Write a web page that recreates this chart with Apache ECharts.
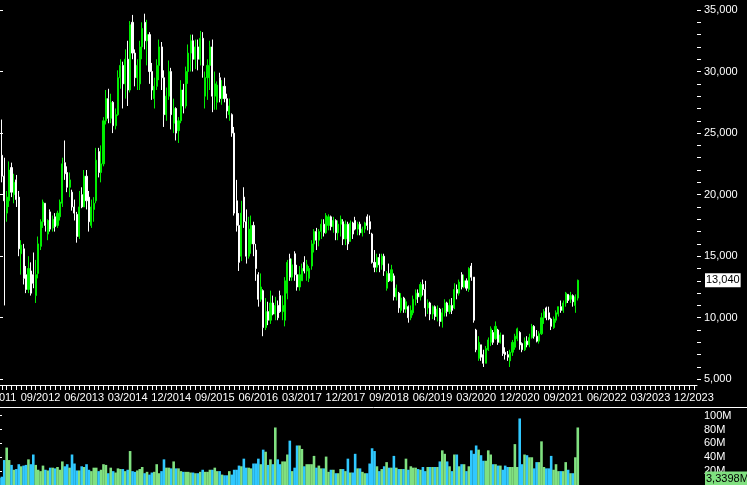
<!DOCTYPE html>
<html><head><meta charset="utf-8">
<script src="https://cdn.jsdelivr.net/npm/echarts@6/dist/echarts.min.js"></script>
<style>html,body{margin:0;padding:0;background:#000;}#c{width:747px;height:485px;}</style>
</head><body><div id="c"></div>
<script>
// ---- data: semi-monthly candles, first period mid-Dec 2011 (month index 0 = Dec 2011) ----
const periodStartMonth = 0.5;
const periodStepMonths = 0.5;

const opens = [
27900,23200,21500,18500,19500,22200,20000,21200,19800,15200,
15600,13500,12300,13800,13500,11800,13600,15800,17800,19300,
16800,18600,17300,18200,17500,18200,19300,22600,21800,20600,
20200,19000,18400,16600,20000,19000,21500,19800,17500,18800,
19500,23500,21800,22500,26000,27800,26200,27500,25600,26500,
29500,30500,29000,31000,28500,34000,31500,29500,29000,32000,
34000,32500,33000,30000,27800,28800,30500,32000,29500,26500,
28000,30000,25800,27000,25200,26000,28500,27200,30000,31500,
32500,31000,32000,31000,32700,28000,29500,30500,32000,28000,
27500,29500,27800,28800,27800,26500,26500,25000,19500,17500,
15000,19800,17800,15000,16000,17500,15500,13500,11500,12200,
9200,10500,9800,11200,10300,11000,11800,10500,9800,12000,
14800,13300,15200,13500,12500,13000,14500,13800,13200,14200,
16000,17000,16300,17000,17600,16900,17500,18200,17400,17900,
16900,17600,17800,16400,17600,16200,17700,17900,17200,17600,
16900,17200,18200,17800,16800,14500,14100,14900,14300,15000,
12400,13600,13000,13400,11700,12000,10600,11600,10700,10900,
10000,10400,11500,12000,11700,12700,12300,10800,11200,10300,
10900,10100,10700,9700,10400,11200,10500,11000,10800,12300,
12000,13500,12500,13000,12300,14200,13300,9000,6700,7800,
7000,6300,7400,8000,8800,8300,9000,8000,8600,7200,
7000,6500,7200,7600,8300,8800,7900,7400,8100,7800,
8400,9300,8500,8100,8700,10000,10800,10400,9900,9200,
9800,10300,10900,10600,11200,11900,11500,11800,11000,11600];

const closes = [
23200,21500,19500,19800,22000,20200,21000,19600,15600,15900,
13200,12300,14000,12000,12800,13500,16000,17800,19400,17500,
17900,17200,18000,17400,18500,19400,22500,21700,20600,21200,
19000,18500,16600,19000,19000,21500,19500,17800,19000,19300,
22800,21800,22500,26000,27800,26200,27500,25600,26500,29500,
30500,29000,31000,28500,33800,31500,29500,30500,32000,33500,
32500,33000,30000,28500,28800,30500,32000,29500,26500,28000,
30000,26500,27000,25000,26000,28500,27200,30000,31500,32500,
31000,32000,31000,32700,30500,29500,30500,32000,28000,29000,
28900,27800,28800,27800,26800,27200,25000,18500,17500,14500,
18500,17800,15000,17200,17500,16000,14000,11500,12500,9200,
10500,9800,11200,10300,11000,10000,10500,11000,13000,14500,
13300,14300,13500,12500,13500,14000,13800,14300,14000,16000,
17000,16300,17000,17600,16900,18300,18200,17400,17900,16900,
17600,18000,16400,17600,16000,17700,16800,17200,17600,16900,
17200,17700,17500,17200,14500,14100,14900,14300,15000,13800,
13600,13000,13900,11700,12400,10800,11600,10700,11300,10000,
10600,11500,12000,11700,12700,12300,10800,11200,10300,10900,
10100,10700,9700,10400,11200,10500,11000,10600,12300,12000,
12900,12500,13000,12400,14000,13300,9800,7400,8000,6800,
6300,7500,8200,9100,8000,9300,8000,8600,7100,7000,
6800,7200,8000,8500,9100,7800,7400,8100,7800,8400,
9300,8500,8100,8700,10000,10500,10000,9900,9300,9900,
10400,10900,10600,11200,12000,11400,11800,11300,11700,13040];

const highs = [
28300,26100,23000,20300,22700,22600,21700,21600,20300,16300,
16000,14200,15000,14500,15300,14700,16600,18000,19600,19300,
18000,18800,18300,18500,18700,19600,23000,24400,22300,21800,
20400,19600,18600,20300,20600,22000,22000,20300,19600,19800,
23800,23800,24000,26300,28500,28600,28200,27600,27000,30100,
31000,30800,31800,32500,34100,34600,31800,31000,32500,34000,
34700,34200,33200,30700,29500,31000,32600,32400,30100,28700,
30900,30300,27800,27100,26300,29300,29000,30400,32200,33000,
33000,32600,32600,33300,33200,30000,31000,32500,32600,30000,
29200,29900,29300,29500,28200,27800,26600,25500,21200,18500,
19500,20600,18800,18200,18300,17800,16000,13700,13600,12300,
11600,11300,12200,11800,11700,11400,12200,11800,13300,14700,
15200,14800,15400,14300,14200,14400,15000,14700,14200,16300,
17200,17300,17200,18000,18000,18500,18400,18300,18200,18000,
17900,18300,18000,17900,17800,17900,17800,18200,17800,17800,
17400,17800,18400,18300,16900,15500,15200,15200,15200,15200,
13800,14400,14300,13600,12700,12100,12000,11700,11500,11000,
11000,11800,12300,12300,12900,13100,13000,11500,11300,11000,
11000,11000,10800,10800,11500,11300,11500,11600,12800,12700,
13100,13700,13500,13200,14100,14450,13300,9100,8500,7800,
7400,7700,8400,9300,9000,9700,9100,8800,8600,7600,
7300,7400,8200,8700,9200,8900,8000,8400,8500,8700,
9500,9400,9000,8900,10400,10700,10900,10900,10000,10100,
10600,10900,11400,11400,12100,11900,12100,11900,11900,13100];

const lows = [
22600,21000,11000,17800,19000,19800,19300,19000,15000,13500,
12700,12000,12000,11800,12400,11200,13200,15500,17300,17000,
16300,17000,17000,17000,17300,17900,19000,21200,20200,19800,
18700,17900,16100,16400,18900,19000,18800,17000,17300,17800,
19300,21400,21000,22300,25700,25800,25800,25000,25300,26400,
28600,27000,27800,27200,28300,31000,28800,28500,28500,31000,
31800,30500,29000,27700,27000,28500,29300,28500,25500,26000,
27700,25300,25000,24400,24200,25800,26600,27000,29000,30000,
30000,30200,30100,30500,29500,27000,27700,28500,26700,26900,
26900,27500,27300,27500,26200,26000,24700,18300,17000,13800,
14600,17300,14400,14800,15200,15000,13000,10900,11300,8500,
9000,9400,9500,10200,9800,9800,10400,9800,9300,11500,
13000,13000,13000,12200,12200,13000,13600,13000,12900,13900,
15300,15500,15800,16400,16600,16800,17100,17100,16900,16300,
16300,16600,15900,15900,15500,16200,16400,17100,16700,16700,
16600,16900,17100,16800,14400,13700,13700,13700,13900,13400,
12200,12900,12900,11400,11400,10400,10400,10400,10400,9600,
9800,10200,11000,11200,11400,11800,10100,10300,9800,9900,
9800,9700,9300,9200,10100,10100,10300,10300,10700,11500,
11800,12300,12400,12200,12100,13000,9600,7200,6500,6500,
6000,6300,7300,7700,7800,8200,7800,7900,6900,6600,
6500,6000,6900,7400,8100,7400,7200,7300,7600,7600,
8300,8300,8000,7900,8600,9500,9800,9800,9000,9100,
9600,10100,10400,10400,10900,11200,11200,10900,10400,11400];

// volume in millions
const volumes = [
10,12,36,54,36,29,22,23,30,27, 28,29,37,30,44,29,22,20,28,22,
21,25,25,24,26,22,34,27,30,25, 44,31,21,21,27,26,30,22,20,25,
25,20,22,30,29,17,25,20,18,24, 23,23,20,22,49,20,19,21,23,26,
17,19,15,18,19,30,17,20,37,25, 25,24,34,24,24,20,19,19,19,18,
18,17,17,19,22,19,19,22,22,25, 20,20,15,14,14,20,15,22,22,28,
27,38,25,25,24,31,31,38,30,51, 48,29,37,30,83,37,30,34,34,44,
64,20,25,57,57,52,27,30,30,30, 42,25,28,24,24,41,19,22,22,17,
17,23,23,20,38,18,18,45,24,24, 19,17,17,31,53,49,27,20,23,27,
33,25,25,42,25,23,23,23,38,22, 27,25,25,23,22,26,20,26,26,26,
26,26,34,50,45,34,27,20,44,44, 27,30,30,20,27,50,45,57,51,43,
35,35,50,44,30,30,28,28,22,28, 26,26,26,59,26,96,30,44,43,40,
40,24,33,33,63,26,24,24,42,22, 30,20,20,20,33,22,17,17,40,83];

const lastVolumeLabel = '3,3398M';
const lastVolumeValue = 3.3398;

// axis ticks / labels
const priceLabelTicks = [5000,10000,15000,20000,25000,30000,35000];
const priceMinorTicks = [5000,6000,7000,8000,9000,10000,11000,12000,13000,14000,15000,16000,17000,18000,19000,20000,21000,22000,23000,24000,25000,26000,27000,28000,29000,30000,31000,32000,33000,34000,35000];
const volumeLabelTicks = [20,40,60,80,100];
const monthLabelTicks = [0,9,18,27,36,45,54,63,72,81,90,99,108,117,126,135,144];
const monthTicks = [];
for (let m = 0; m <= 144; m++) monthTicks.push(m);

// ---- chart ----
const FONT = '"Liberation Sans", Arial, sans-serif';
const WHITE = '#ffffff';
const UP = '#00ee00', DOWN = '#ffffff';
const VOL_UP = '#80e080', VOL_DOWN = '#30c8ff';
const xMax = 144.63;

function monthLabel(v) {
  const t = 11 + Math.round(v);
  const mo = t % 12 + 1;
  const yr = 2011 + Math.floor(t / 12);
  return (mo < 10 ? '0' : '') + mo + '/' + yr;
}

const xs = opens.map((_, i) => periodStartMonth + i * periodStepMonths);
const candleData = opens.map((o, i) => [xs[i], o, closes[i], lows[i], highs[i]]);
const volData = volumes.map((v, i) => ({
  value: [xs[i], v],
  itemStyle: { color: closes[i] >= opens[i] ? VOL_UP : VOL_DOWN }
}));

const chart = echarts.init(document.getElementById('c'), null, { renderer: 'canvas' });
const txt = { color: WHITE, fontSize: 11, fontFamily: FONT };

chart.setOption({
  backgroundColor: '#000000',
  animation: false,
  grid: [
    { left: -3, right: 50, top: 0, bottom: 100, containLabel: false, outerBoundsMode: 'none' },
    { left: -3, right: 50, top: 414, bottom: 0, containLabel: false, outerBoundsMode: 'none' }
  ],
  xAxis: [
    { gridIndex: 0, type: 'value', min: 0, max: xMax, position: 'bottom',
      axisLine: { show: true, lineStyle: { color: WHITE, width: 1 } },
      axisTick: { show: true, customValues: monthTicks, length: 5, lineStyle: { color: WHITE } },
      axisLabel: Object.assign({ show: true, customValues: monthLabelTicks, formatter: monthLabel, margin: 7 }, txt),
      splitLine: { show: false } },
    { gridIndex: 1, type: 'value', min: 0, max: xMax, position: 'top',
      axisLine: { show: true, lineStyle: { color: WHITE, width: 1 } },
      axisTick: { show: false }, axisLabel: { show: false }, splitLine: { show: false } }
  ],
  yAxis: [
    { gridIndex: 0, type: 'value', position: 'right', min: 4537, max: 35812,
      axisLine: { show: true, lineStyle: { color: WHITE, width: 1 } },
      axisTick: { show: true, customValues: priceLabelTicks, length: 6, lineStyle: { color: WHITE } },
      axisLabel: Object.assign({ show: true, customValues: priceLabelTicks, margin: 7,
        formatter: v => Number(v).toLocaleString('en-US') }, txt),
      splitLine: { show: false } },
    { gridIndex: 0, type: 'value', position: 'right', min: 4537, max: 35812,
      axisLine: { show: false },
      axisTick: { show: true, customValues: priceMinorTicks, length: 4, lineStyle: { color: WHITE } },
      axisLabel: { show: false }, splitLine: { show: false } },
    { gridIndex: 1, type: 'value', position: 'right', min: 0, max: 102.45,
      axisLine: { show: true, lineStyle: { color: WHITE, width: 1 } },
      axisTick: { show: true, customValues: volumeLabelTicks, length: 5, lineStyle: { color: WHITE } },
      axisLabel: Object.assign({ show: true, customValues: volumeLabelTicks, margin: 7,
        formatter: v => v + 'M' }, txt),
      splitLine: { show: false } }
  ],
  series: [
    { type: 'candlestick', xAxisIndex: 0, yAxisIndex: 0, data: candleData,
      barWidth: 1.6, clip: true,
      itemStyle: { color: UP, color0: DOWN, borderColor: UP, borderColor0: DOWN, borderWidth: 1 } },
    { type: 'bar', xAxisIndex: 1, yAxisIndex: 2, data: volData, barWidth: 2.6, clip: true }
  ]
});

const last = closes.length - 1;
const yPrice = chart.convertToPixel({ yAxisIndex: 0 }, closes[last]);
const yVol = Math.min(chart.convertToPixel({ yAxisIndex: 2 }, lastVolumeValue), 478.5);
chart.setOption({
  graphic: [
    { type: 'line', z: 100, shape: { x1: 0, y1: 407.5, x2: 747, y2: 407.5 }, style: { stroke: WHITE, lineWidth: 1 } },
    { type: 'text', z: 100, x: 705, y: yPrice,
      style: { text: closes[last].toLocaleString('en-US'), fill: '#000', backgroundColor: '#ffffff',
        padding: [2, 1, 1, 1], font: '11px ' + FONT, verticalAlign: 'middle', align: 'left' } },
    { type: 'text', z: 100, x: 705, y: yVol,
      style: { text: lastVolumeLabel, fill: '#000', backgroundColor: VOL_UP,
        padding: [2, 1, 1, 1], font: '11px ' + FONT, verticalAlign: 'middle', align: 'left' } }
  ]
});
</script>
</body></html>
